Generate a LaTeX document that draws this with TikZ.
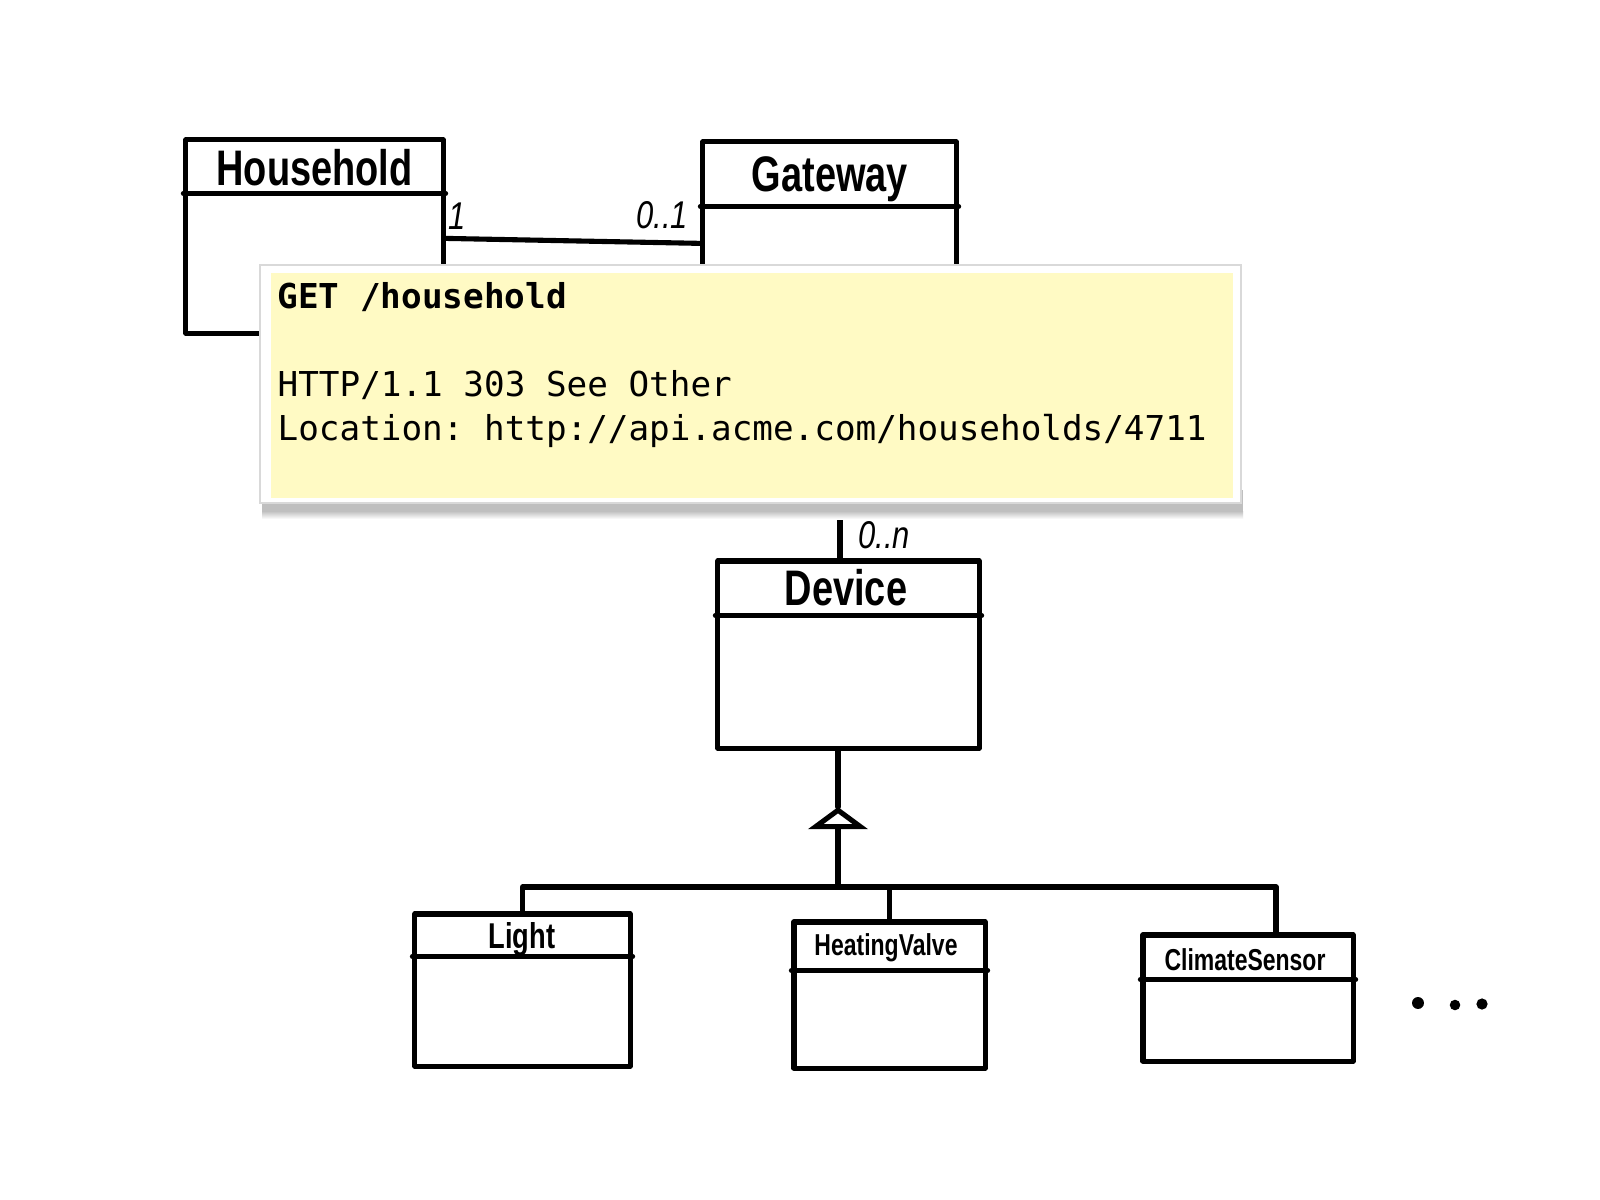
\documentclass[tikz,border=0pt]{standalone}
\usepackage{fontspec}
\setmonofont{DejaVu Sans Mono}
\newfontfamily\titlefont[FakeStretch=0.76]{Liberation Sans}
\newfontfamily\handfont[FakeStretch=0.8]{Liberation Sans}
\usetikzlibrary{calc,arrows.meta}
\definecolor{noteyellow}{RGB}{255,250,196}
\begin{document}
\begin{tikzpicture}[x=0.01cm,y=-0.01cm,
  stroke/.style={line width=1.45pt, line cap=round, line join=round},
  umlbox/.style={stroke, draw, rectangle, inner sep=0pt},
  bigtitle/.style={font=\titlefont\bfseries\fontsize{14.2}{16}\selectfont, inner sep=0pt, anchor=base},
  smalltitle/.style={font=\titlefont\bfseries\fontsize{8.6}{10}\selectfont, inner sep=0pt, anchor=base},
  mult/.style={font=\handfont\itshape\fontsize{11}{13}\selectfont, inner sep=0pt, anchor=base},
  notetext/.style={font=\ttfamily\fontsize{9.75}{12.5}\selectfont, inner sep=0pt, anchor=base west},
  notebox/.style={rectangle, fill=noteyellow, draw=none, inner sep=0pt}
]
\useasboundingbox (0,0) rectangle (1600,1200);
\fill[white] (0,0) rectangle (1600,1200);

% --- class boxes ---
\node[umlbox, minimum width=2.57cm, minimum height=1.93cm] (hh) at (314.5,236.5) {};
\node[umlbox, minimum width=2.53cm, minimum height=2.78cm] (gw) at (829.5,281) {};
\node[umlbox, minimum width=2.61cm, minimum height=1.87cm] (dev) at (848.5,654.5) {};
\node[umlbox, minimum width=2.15cm, minimum height=1.52cm] (lt) at (522.5,990) {};
\node[umlbox, minimum width=1.91cm, minimum height=1.46cm] (hv) at (889.5,995) {};
\node[umlbox, minimum width=2.10cm, minimum height=1.26cm] (cs) at (1248,998) {};

% header separators
\draw[stroke] ($(hh.north west)+(0,56)$) -- ($(hh.north east)+(0,56)$);
\draw[stroke] ($(gw.north west)+(0,67)$) -- ($(gw.north east)+(0,67)$);
\draw[stroke] ($(dev.north west)+(0,57)$) -- ($(dev.north east)+(0,57)$);
\draw[stroke] ($(lt.north west)+(0,45)$) -- ($(lt.north east)+(0,45)$);
\draw[stroke] ($(hv.north west)+(0,51)$) -- ($(hv.north east)+(0,51)$);
\draw[stroke] ($(cs.north west)+(0,47)$) -- ($(cs.north east)+(0,47)$);

% titles
\node[bigtitle] (hhT) at (314.5,185) {Household};
\node[bigtitle] (gwT) at (830,191) {Gateway};
\node[bigtitle] (devT) at (846,605) {Device};
\node[smalltitle, font=\titlefont\bfseries\fontsize{10.2}{12}\selectfont] (ltT) at (522,948) {Light};
\node[smalltitle] (hvT) at (886,955) {HeatingValve};
\node[smalltitle] (csT) at (1245,970) {ClimateSensor};

% association Household -- Gateway
\draw[stroke] ($(hh.north east)+(0,101)$) -- ($(gw.north west)+(0,104)$);
\node[mult] (m1) at (457,229) {1};
\node[mult] (m2) at (662,228) {0..1};

% association Gateway -- Device
\coordinate (gd) at (840,0);
\draw[stroke] (gw.south -| gd) -- (dev.north -| gd);
\node[mult, font=\handfont\itshape\fontsize{11}{13}\selectfont] (m3) at (884,548) {0..n};

% generalization
\coordinate (apex) at (838,807);
\coordinate (jn) at (838,887);
\coordinate (csd) at ($(cs.north)+(28,0)$);
\draw[stroke] (dev.south -| apex) -- (apex);
\draw[stroke, -{Triangle[open, length=6.3pt, width=16.8pt]}] (jn) -- (apex);
\draw[stroke] (lt.north) |- (jn) -| (csd);
\draw[stroke] (jn -| hv.north) -- (hv.north);

% ellipsis dots
\fill (1418,1003) circle[radius=1.7pt];
\fill (1455,1005) circle[radius=1.5pt];
\fill (1482,1004) circle[radius=1.6pt];

% --- note with shadow ---
\fill[gray!50] (262,490) rectangle (1243,511);
\shade[top color=gray!50, bottom color=white] (262,511) rectangle (1243,519);
\filldraw[fill=white, draw=gray!30, line width=0.6pt] (260,265) rectangle (1241,503);
\node[notebox, minimum width=9.62cm, minimum height=2.25cm] (note) at (752,385.5) {};
\node[notetext, font=\ttfamily\bfseries\fontsize{9.75}{12.5}\selectfont] (l1) at (277,308.5) {GET /household};
\node[notetext] (l3) at (277,396.5) {HTTP/1.1 303 See Other};
\node[notetext] (l4) at (277,440.5) {Location: http://api.acme.com/households/4711};
\end{tikzpicture}
\end{document}
